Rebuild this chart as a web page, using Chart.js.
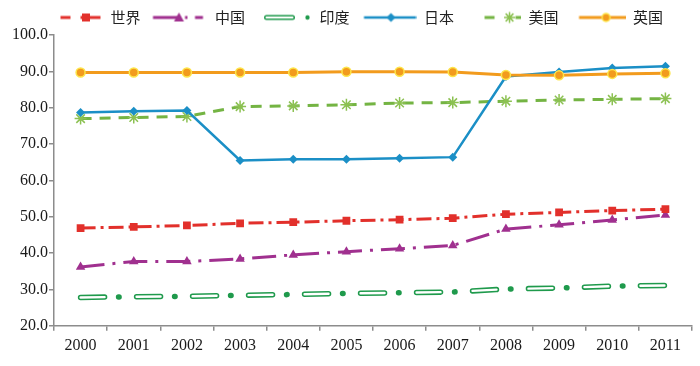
<!DOCTYPE html>
<html><head><meta charset="utf-8">
<script src="https://cdn.jsdelivr.net/npm/chart.js@4"></script>
<style>html,body{margin:0;padding:0;background:#fff;}#wrap{width:700px;height:366px;position:relative;}</style>
</head><body><div id="wrap"><canvas id="c"></canvas></div>
<script>
const years = ['2000','2001','2002','2003','2004','2005','2006','2007','2008','2009','2010','2011'];
const seriesNames = ['世界','中国','印度','日本','美国','英国'];
const world = [46.9,47.2,47.6,48.2,48.5,48.9,49.2,49.6,50.7,51.2,51.7,52.1];
const china = [36.2,37.7,37.7,38.4,39.5,40.4,41.2,42.1,46.6,47.8,49.1,50.5];
const india = [27.8,28.0,28.1,28.4,28.6,28.9,29.1,29.3,30.1,30.4,30.9,31.1];
const japan = [78.7,79.0,79.2,65.5,65.8,65.8,66.1,66.4,88.6,89.8,90.9,91.4];
const usa   = [77.0,77.3,77.6,80.3,80.5,80.8,81.3,81.4,81.8,82.1,82.3,82.5];
const uk    = [89.7,89.7,89.7,89.7,89.7,89.9,89.9,89.8,89.0,88.9,89.3,89.5];
const yTickLabels = ['20.0','30.0','40.0','50.0','60.0','70.0','80.0','90.0','100.0'];

const C = {red:'#e2302b', purple:'#a0308f', india:'#1f9a4c', blue:'#1b8fc6', green:'#74b443', star:'#8cc152', orange:'#f29b1d', yellow:'#fde54a'};
const AXIS = '#8c8c8c';

function mk(draw){const c=document.createElement('canvas');c.width=62;c.height=14;const g=c.getContext('2d');draw(g);return c;}
function seg(g,x1,x2,col,w,cap){g.save();g.strokeStyle=col;g.lineWidth=w;g.lineCap=cap||'butt';g.beginPath();g.moveTo(x1,7);g.lineTo(x2,7);g.stroke();g.restore();}
const legendImgs = [
  mk(g=>{seg(g,19.5,29.5,C.red,3);seg(g,39.5,59.5,C.red,3);g.fillStyle=C.red;g.fillRect(41,3,8,8);}),
  mk(g=>{seg(g,7.5,32,C.purple,3);seg(g,39.5,42,C.purple,3);seg(g,49.5,57.5,C.purple,3);g.fillStyle=C.purple;g.beginPath();g.moveTo(33.5,2);g.lineTo(38.5,11);g.lineTo(28.5,11);g.closePath();g.fill();}),
  mk(g=>{seg(g,16.5,42.5,C.india,5,'round');seg(g,16.5,42.5,'#fff',2.2,'round');g.fillStyle=C.india;g.beginPath();g.arc(57.5,7,2.2,0,Math.PI*2);g.fill();}),
  mk(g=>{seg(g,9.5,61.5,C.blue,2.5);g.fillStyle=C.blue;g.beginPath();g.moveTo(36.5,2.5);g.lineTo(41,7);g.lineTo(36.5,11.5);g.lineTo(32,7);g.closePath();g.fill();}),
  mk(g=>{seg(g,25.5,35.5,C.green,3);seg(g,56.5,62,C.green,3);g.strokeStyle=C.star;g.lineWidth=1.5;g.beginPath();const r=5.5;for(let k=0;k<4;k++){const a=k*Math.PI/4;g.moveTo(50.5-r*Math.cos(a),7-r*Math.sin(a));g.lineTo(50.5+r*Math.cos(a),7+r*Math.sin(a));}g.stroke();}),
  mk(g=>{seg(g,15.5,62,C.orange,3);g.fillStyle=C.orange;g.strokeStyle=C.yellow;g.lineWidth=1.5;g.beginPath();g.arc(42.5,7,4,0,Math.PI*2);g.fill();g.stroke();})
];

const datasets = [
  {label:seriesNames[0], data:world, borderColor:C.red, backgroundColor:C.red, borderWidth:3, borderDash:[15,5,3,5], pointStyle:'rect', pointRadius:5.5, pointBorderWidth:0, order:1},
  {label:seriesNames[1], data:china, borderColor:C.purple, backgroundColor:C.purple, borderWidth:3, borderDash:[24,8,3,8], pointStyle:'triangle', pointRadius:5.5, pointBorderWidth:0, order:1},
  {label:seriesNames[2], data:india, borderColor:C.india, backgroundColor:C.india, borderWidth:5.5, borderCapStyle:'round', borderDash:[24,14,0.5,17.5], pointRadius:0, order:2},
  {label:'_inner', data:india, borderColor:'#ffffff', borderWidth:2.4, borderCapStyle:'round', borderDash:[24,32], pointRadius:0, order:0},
  {label:seriesNames[3], data:japan, borderColor:C.blue, backgroundColor:C.blue, borderWidth:2.5, pointStyle:'rectRot', pointRadius:4.5, pointBorderWidth:0, order:2},
  {label:seriesNames[4], data:usa, borderColor:C.green, backgroundColor:C.star, borderWidth:3, borderDash:[11,8], pointStyle:'star', pointRadius:6, pointBorderColor:C.star, pointBorderWidth:1.5, order:3},
  {label:seriesNames[5], data:uk, borderColor:C.orange, backgroundColor:C.orange, borderWidth:3, pointStyle:'circle', pointRadius:4.5, pointBorderColor:C.yellow, pointBorderWidth:1.5, order:1}
];
datasets.forEach(d=>{d.tension=0;d.fill=false;});

const legendMap = [0,1,2,4,5,6];

const legendShift = {id:'legendShift', beforeDraw(chart){ if(chart.legend){chart.legend.left += 6; chart.legend.right += 6;} }};

new Chart(document.getElementById('c'), {
  type:'line',
  data:{labels:years, datasets},
  plugins:[legendShift],
  options:{
    responsive:true, maintainAspectRatio:false, animation:false,
    events:[],
    layout:{padding:{left:0,right:8,top:0,bottom:6}},
    plugins:{
      tooltip:{enabled:false},
      legend:{
        position:'top', align:'center',
        labels:{
          usePointStyle:true, pointStyleWidth:62, padding:5,
          font:{family:'"Noto Sans CJK SC", sans-serif', size:15}, color:'#222',
          generateLabels:(chart)=>legendMap.map((di,k)=>({
            text:chart.data.datasets[di].label, pointStyle:legendImgs[k],
            fillStyle:'transparent', strokeStyle:'transparent', lineWidth:0,
            hidden:false, datasetIndex:di, fontColor:'#222'
          }))
        }
      }
    },
    scales:{
      x:{
        type:'category', offset:true,
        grid:{offset:true, drawOnChartArea:false, drawTicks:true, tickLength:5, color:AXIS, lineWidth:1.5},
        border:{display:true, color:AXIS, width:1.5},
        ticks:{font:{family:'"Liberation Serif", serif', size:16}, color:'#1a1a1a', padding:5, maxRotation:0, autoSkip:false}
      },
      y:{
        min:20, max:100,
        grid:{drawOnChartArea:false, drawTicks:true, tickLength:5, color:AXIS, lineWidth:1.5},
        border:{display:true, color:AXIS, width:1.5},
        ticks:{stepSize:10, font:{family:'"Liberation Serif", serif', size:16}, color:'#1a1a1a', padding:1,
          callback:(v,i)=>yTickLabels[i]},
        afterFit:(s)=>{s.width=54; s.paddingTop=35;}
      }
    }
  }
});
</script></body></html>
